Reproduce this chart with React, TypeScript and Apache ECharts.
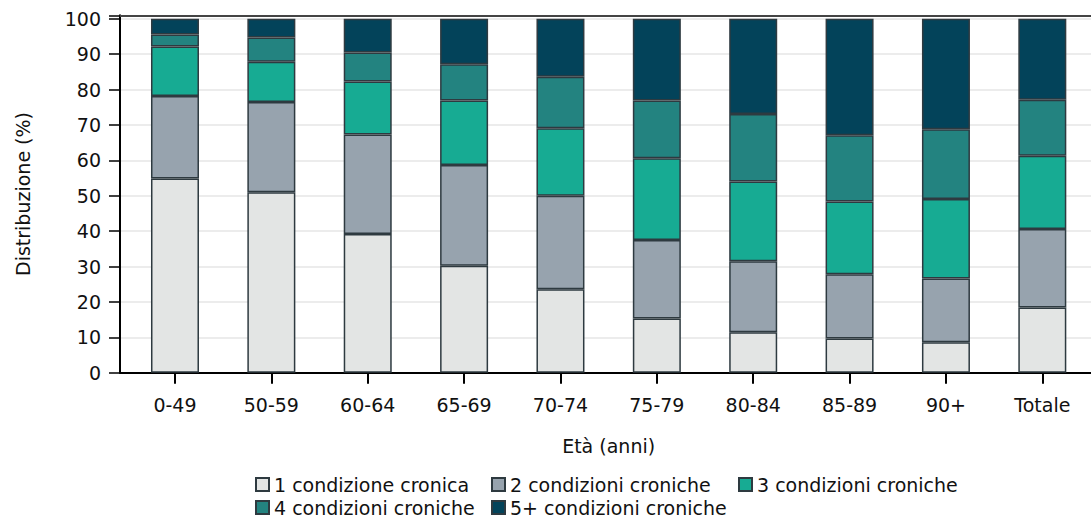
import React, { useEffect, useRef } from "react";
import * as echarts from "echarts";

const categories = ["0-49", "50-59", "60-64", "65-69", "70-74", "75-79", "80-84", "85-89", "90+", "Totale"];
const seriesNames = [
  "1 condizione cronica",
  "2 condizioni croniche",
  "3 condizioni croniche",
  "4 condizioni croniche",
  "5+ condizioni croniche",
];
const s1 = [54.9, 51.0, 39.2, 30.2, 23.6, 15.3, 11.4, 9.7, 8.6, 18.4];
const s2 = [23.3, 25.5, 28.1, 28.5, 26.4, 22.2, 20.1, 18.1, 18.0, 22.2];
const s3 = [14.0, 11.4, 15.0, 18.2, 19.1, 23.1, 22.5, 20.6, 22.5, 20.7];
const s4 = [3.4, 6.8, 8.2, 10.3, 14.5, 16.3, 19.1, 18.7, 19.7, 15.8];
const s5 = [4.4, 5.3, 9.5, 12.8, 16.4, 23.1, 26.9, 32.9, 31.2, 22.9];
const colors = ["#e3e5e4", "#97a3ae", "#17ab93", "#238380", "#03435a"];

const FONT = "DejaVu Sans";

export default function App() {
  const ref = useRef<HTMLDivElement>(null);
  useEffect(() => {
    const chart = echarts.init(ref.current!, null, { renderer: "svg" });
    const values = [s1, s2, s3, s4, s5];
    const gridTop = 15.3;
    const gridBottom = 146.3;
    const legendText = { fontFamily: FONT, fontSize: 19, color: "#111" };
    const legendBase = {
      orient: "horizontal" as const,
      itemWidth: 13,
      itemHeight: 13,
      itemGap: 6,
      textStyle: legendText,
      icon: "rect",
      selectedMode: false,
      padding: 0,
    };
    const legendPos = [
      { left: 255, top: 475 },
      { left: 491, top: 475 },
      { left: 738, top: 475 },
      { left: 255, top: 498 },
      { left: 491, top: 498 },
    ];
    chart.setOption({
      animation: false,
      textStyle: { fontFamily: FONT },
      grid: [
        { left: 120, right: 0, top: gridTop, bottom: gridBottom },
        { left: 126.8, right: 0.5, top: gridTop, bottom: gridBottom },
      ],
      xAxis: [
        {
          gridIndex: 0,
          type: "value",
          min: 0,
          max: 1,
          position: "bottom",
          axisLine: { show: true, lineStyle: { color: "#000", width: 2 } },
          axisTick: { show: false },
          axisLabel: { show: false },
          splitLine: { show: false },
        },
        {
          gridIndex: 0,
          type: "value",
          min: 0,
          max: 1,
          position: "top",
          axisLine: { show: true, lineStyle: { color: "#444", width: 2 } },
          axisTick: { show: false },
          axisLabel: { show: false },
          splitLine: { show: false },
        },
        {
          gridIndex: 1,
          type: "category",
          data: categories,
          position: "bottom",
          axisLine: { show: false },
          axisTick: { show: true, alignWithLabel: true, length: 11, lineStyle: { color: "#000", width: 2 } },
          axisLabel: { fontFamily: FONT, fontSize: 19, color: "#111", margin: 23 },
          name: "Età (anni)",
          nameLocation: "middle",
          nameGap: 64,
          nameTextStyle: { fontFamily: FONT, fontSize: 19, color: "#111" },
        },
      ],
      yAxis: [
        {
          gridIndex: 0,
          type: "value",
          min: 0,
          max: 101,
          interval: 10,
          axisLine: { show: true, lineStyle: { color: "#000", width: 2 } },
          axisTick: { show: true, length: 11, lineStyle: { color: "#000", width: 1.5 } },
          axisLabel: {
            fontFamily: FONT,
            fontSize: 19,
            color: "#111",
            margin: 19,
            formatter: (v: number) => (v > 100 ? "" : String(v)),
          },
          splitLine: { show: true, lineStyle: { color: "#e6e6e6", width: 1.5 } },
          name: "Distribuzione (%)",
          nameLocation: "middle",
          nameGap: 88,
          nameTextStyle: { fontFamily: FONT, fontSize: 19, color: "#111" },
        },
        {
          gridIndex: 1,
          type: "value",
          min: 0,
          max: 101,
          show: false,
        },
      ],
      legend: seriesNames.map((n, i) => ({ ...legendBase, ...legendPos[i], data: [n] })),
      series: values.map((d, i) => ({
        name: seriesNames[i],
        type: "bar",
        stack: "tot",
        xAxisIndex: 2,
        yAxisIndex: 1,
        data: d,
        barWidth: 48,
        itemStyle: { color: colors[i], borderColor: "#2e3a40", borderWidth: 1.5 },
      })),
    });
    return () => chart.dispose();
  }, []);
  return <div ref={ref} style={{ width: 1091, height: 519, position: "absolute", left: 0, top: 0 }} />;
}
